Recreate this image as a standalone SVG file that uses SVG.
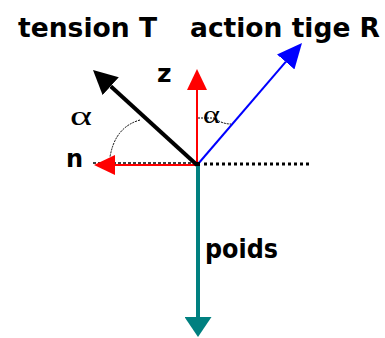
<svg xmlns="http://www.w3.org/2000/svg" width="385" height="338" viewBox="0 0 385 338">
<style>
.lbl{font-family:"DejaVu Sans","Liberation Sans",sans-serif;font-weight:bold;fill:#000}
.alpha{font-family:"Liberation Serif","DejaVu Serif",serif;fill:#000}
.arc{fill:none;stroke:#000;stroke-width:1;stroke-dasharray:2 1}
</style>
<defs>
<marker id="mRed" markerUnits="userSpaceOnUse" markerWidth="21" markerHeight="20" refX="0" refY="10" orient="auto" viewBox="0 0 21 20"><path d="M0,0 L21,10 L0,20 Z" fill="#ff0000"/></marker>
<marker id="mBlack" markerUnits="userSpaceOnUse" markerWidth="24" markerHeight="24" refX="0" refY="12" orient="auto" viewBox="0 0 24 24"><path d="M0,0 L24,12 L0,24 Z" fill="#000"/></marker>
<marker id="mBlue" markerUnits="userSpaceOnUse" markerWidth="25" markerHeight="23" refX="0" refY="11.5" orient="auto" viewBox="0 0 25 23"><path d="M0,0 L25,11.5 L0,23 Z" fill="#0000ff"/></marker>
<marker id="mTeal" markerUnits="userSpaceOnUse" markerWidth="20" markerHeight="27" refX="0" refY="13.5" orient="auto" viewBox="0 0 20 27"><path d="M0,0 L20,13.5 L0,27 Z" fill="#008080"/></marker>
</defs>
<rect width="385" height="338" fill="#fff"/>
<g id="connectors">
<line x1="93" y1="163" x2="197" y2="163" stroke="#000" stroke-width="1.5" stroke-dasharray="3 2"/>
<line x1="197" y1="165" x2="115" y2="165" stroke="#ff0000" stroke-width="2" marker-end="url(#mRed)"/>
<line x1="197" y1="165" x2="197" y2="90" stroke="#ff0000" stroke-width="2" marker-end="url(#mRed)"/>
<line x1="197" y1="165" x2="110.7" y2="86.2" stroke="#000" stroke-width="4" marker-end="url(#mBlack)"/>
<line x1="198" y1="164" x2="285.7" y2="61.9" stroke="#0000ff" stroke-width="2" marker-end="url(#mBlue)"/>
<line x1="198" y1="165" x2="198" y2="317" stroke="#008080" stroke-width="4" marker-end="url(#mTeal)"/>
<line x1="204" y1="164" x2="312" y2="164" stroke="#000" stroke-width="3" stroke-dasharray="3 3"/>
<rect x="196" y="162" width="4" height="4" fill="#000"/>
<path class="arc" d="M140,120 Q115,127 110,157"/>
<path class="arc" d="M198,118 L214,118 Q222,124 231,124"/>
</g>
<g id="label-tension"><text class="lbl" x="18" y="37" font-size="26" textLength="139" lengthAdjust="spacingAndGlyphs">tension T</text></g>
<g id="label-action"><text class="lbl" x="190" y="37" font-size="26" textLength="190" lengthAdjust="spacingAndGlyphs">action tige R</text></g>
<g id="label-z"><text class="lbl" x="157" y="82" font-size="25">z</text></g>
<g id="label-n"><text class="lbl" x="66" y="167" font-size="24">n</text></g>
<g id="label-poids"><text class="lbl" x="205" y="258" font-size="27" textLength="73" lengthAdjust="spacingAndGlyphs">poids</text></g>
<g id="alpha-left"><text class="alpha" x="70" y="125" font-size="28" textLength="22" lengthAdjust="spacingAndGlyphs">α</text></g>
<g id="alpha-right"><text class="alpha" x="203" y="123" font-size="26" textLength="17" lengthAdjust="spacingAndGlyphs">α</text></g>
</svg>
